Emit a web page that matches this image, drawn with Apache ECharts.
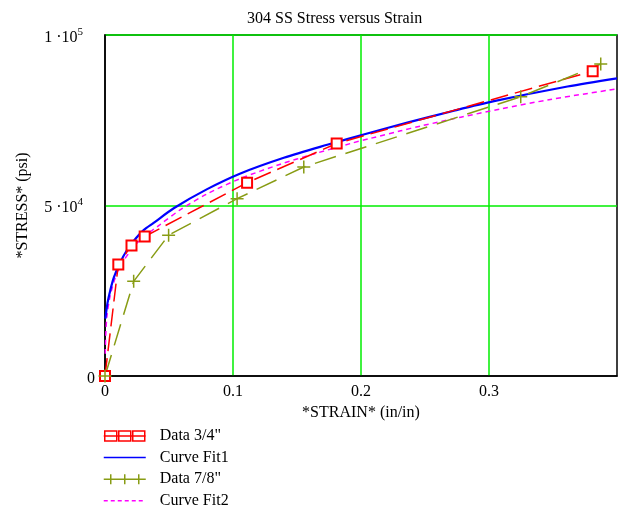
<!DOCTYPE html>
<html>
<head>
<meta charset="utf-8">
<script src="https://cdn.jsdelivr.net/npm/echarts@6/dist/echarts.min.js"></script>
<style>
    html, body { margin: 0; padding: 0; background: #fff; }
    #chart { width: 623px; height: 510px; }
</style>
</head>
<body>
<div id="chart"></div>
<script>
const strain34 = [0, 0.0104, 0.0207, 0.031, 0.111, 0.181, 0.381];
const stress34 = [0, 32700, 38300, 40900, 56700, 68200, 89400];

const strain78 = [0, 0.0224, 0.0497, 0.1032, 0.1553, 0.3248, 0.3873];
const stress78 = [0, 27750, 41300, 52000, 61300, 81900, 91500];

const strainFit1 = [0.0003, 0.002, 0.0041, 0.007, 0.012, 0.017, 0.0224, 0.03, 0.038, 0.0537, 0.0798, 0.1058, 0.1397, 0.1736, 0.2049, 0.2362, 0.2726, 0.3039, 0.3613, 0.4];
const stressFit1 = [16800, 21500, 25100, 29000, 33400, 36800, 39600, 42700, 44900, 49200, 54800, 59400, 64000, 67800, 71100, 74300, 77800, 80600, 84900, 87300];

const strainFit2 = [0.0002, 0.0006, 0.0015, 0.004, 0.008, 0.012, 0.0224, 0.03, 0.043, 0.059, 0.0798, 0.1058, 0.137, 0.163, 0.192, 0.2075, 0.231, 0.2466, 0.278, 0.309, 0.348, 0.4];
const stressFit2 = [6500, 12000, 17500, 23500, 28800, 32300, 37900, 40700, 44400, 48800, 53400, 57900, 62100, 65100, 68200, 69700, 71900, 73300, 75900, 78300, 81100, 84200];

const seriesNames = ['Data 3/4"', 'Curve Fit1', 'Data 7/8"', 'Curve Fit2'];

const xTickLabels = ['0', '0.1', '0.2', '0.3', ''];
const yTickValues = [0, 50000, 100000];
const yTickMantissa = ['0', '5 ', '1 '];
const yTickExponent = ['', '4', '5'];

const FONT = '"Liberation Serif", "DejaVu Serif", serif';
const OLIVE = '#889c14';
const GRID_GREEN = '#00ee00';

const pairs = (xs, ys) => xs.map((x, i) => [x, ys[i]]);

// legend glyphs: line with three squares / three crosses, plain line
const ICON_SQUARES = 'path://M0,5H42M1,0H13V10H1ZM15,0H27V10H15ZM29,0H41V10H29Z';
const ICON_CROSSES = 'path://M0,0M0,12M0,6H42M7,0V12M21,0V12M35,0V12';
const ICON_LINE = 'path://M0,0M0,10M0,5H42';

const chart = echarts.init(document.getElementById('chart'));

let options = {
    animation: false,
    backgroundColor: '#fff',
    title: {
        text: '304 SS Stress versus Strain',
        left: 247,
        top: 11,
        padding: 0,
        textStyle: {
            fontFamily: FONT,
            fontSize: 16,
            fontWeight: 'normal',
            color: '#000'
        }
    },
    grid: {
        left: 105,
        right: 6,
        top: 35,
        bottom: 134,
        containLabel: false,
        outerBoundsMode: 'none',
        show: true,
        borderColor: '#000',
        borderWidth: 1.5
    },
    legend: {
        orient: 'vertical',
        left: 103,
        top: 428,
        height: 84,
        padding: 0,
        itemWidth: 42,
        itemHeight: 10,
        itemGap: 5.6,
        symbolKeepAspect: false,
        textStyle: {
            fontFamily: FONT,
            fontSize: 16,
            color: '#000',
            padding: [0, 0, 0, 9]
        },
        data: [
            {
                name: seriesNames[0], icon: ICON_SQUARES,
                itemStyle: { color: 'rgba(0,0,0,0)', borderColor: '#ff0000', borderWidth: 1.5 }
            },
            {
                name: seriesNames[1], icon: ICON_LINE,
                itemStyle: { color: 'rgba(0,0,0,0)', borderColor: '#0000ff', borderWidth: 1.5 }
            },
            {
                name: seriesNames[2], icon: ICON_CROSSES,
                itemStyle: { color: 'rgba(0,0,0,0)', borderColor: OLIVE, borderWidth: 1.5 }
            },
            {
                name: seriesNames[3], icon: ICON_LINE,
                itemStyle: { color: 'rgba(0,0,0,0)', borderColor: '#ff00ff', borderWidth: 1.5, borderType: [4, 3] }
            }
        ]
    },
    xAxis: {
        type: 'value',
        min: 0,
        max: 0.4,
        interval: 0.1,
        name: '*STRAIN* (in/in)',
        nameLocation: 'middle',
        nameGap: 28,
        nameTextStyle: { fontFamily: FONT, fontSize: 16, color: '#000' },
        axisLine: { show: true, lineStyle: { color: '#000', width: 1.5 } },
        axisTick: { show: false },
        axisLabel: {
            margin: 8,
            fontFamily: FONT,
            fontSize: 16,
            color: '#000',
            formatter: v => xTickLabels[Math.round(v / 0.1)]
        },
        splitLine: {
            show: true,
            showMinLine: false,
            showMaxLine: false,
            lineStyle: { color: [GRID_GREEN], width: 1.5, opacity: 1 }
        }
    },
    yAxis: {
        type: 'value',
        min: 0,
        max: 100000,
        interval: 50000,
        name: '*STRESS* (psi)',
        nameLocation: 'middle',
        nameGap: 74,
        nameTextStyle: { fontFamily: FONT, fontSize: 16, color: '#000' },
        axisLine: { show: true, lineStyle: { color: '#000', width: 1.5 } },
        axisTick: { show: false },
        axisLabel: {
            margin: 10,
            padding: [5, 0, 0, 0],
            formatter: v => {
                const i = yTickValues.indexOf(v);
                if (i < 0) return '';
                if (!yTickExponent[i]) return '{b|' + yTickMantissa[i] + '}';
                return '{b|' + yTickMantissa[i] + '·10}{s|' + yTickExponent[i] + '}{p| }';
            },
            rich: {
                b: { fontFamily: FONT, fontSize: 16, color: '#000', lineHeight: 22 },
                s: { fontFamily: FONT, fontSize: 11, color: '#000', lineHeight: 10, verticalAlign: 'top' },
                p: { fontFamily: FONT, fontSize: 11, width: 12 }
            }
        },
        splitLine: {
            show: true,
            showMinLine: false,
            showMaxLine: true,
            lineStyle: { color: [GRID_GREEN], width: 1.5 }
        }
    },
    series: [
        {
            name: seriesNames[0],
            type: 'line',
            data: pairs(strain34, stress34),
            symbol: 'emptyRect',
            symbolSize: 10,
            itemStyle: { color: '#ff0000', borderColor: '#ff0000', borderWidth: 1.5 },
            lineStyle: { color: '#ff0000', width: 1.5, type: [18, 7] },
            z: 4
        },
        {
            name: seriesNames[1],
            type: 'line',
            data: pairs(strainFit1, stressFit1),
            symbol: 'none',
            smooth: 0.3,
            itemStyle: { color: '#0000ff' },
            lineStyle: { color: '#0000ff', width: 2.2 },
            z: 3
        },
        {
            name: seriesNames[2],
            type: 'line',
            data: pairs(strain78, stress78),
            symbol: 'path://M0,6H12M6,0V12',
            symbolSize: 13,
            itemStyle: { color: OLIVE, borderColor: OLIVE, borderWidth: 1.5 },
            lineStyle: { color: OLIVE, width: 1.5, type: [22, 10] },
            z: 4
        },
        {
            name: seriesNames[3],
            type: 'line',
            data: pairs(strainFit2, stressFit2),
            symbol: 'none',
            smooth: 0.3,
            itemStyle: { color: '#ff00ff' },
            lineStyle: { color: '#ff00ff', width: 1.5, type: [5, 4] },
            z: 2
        }
    ]
};

chart.setOption(options);
</script>
</body>
</html>
